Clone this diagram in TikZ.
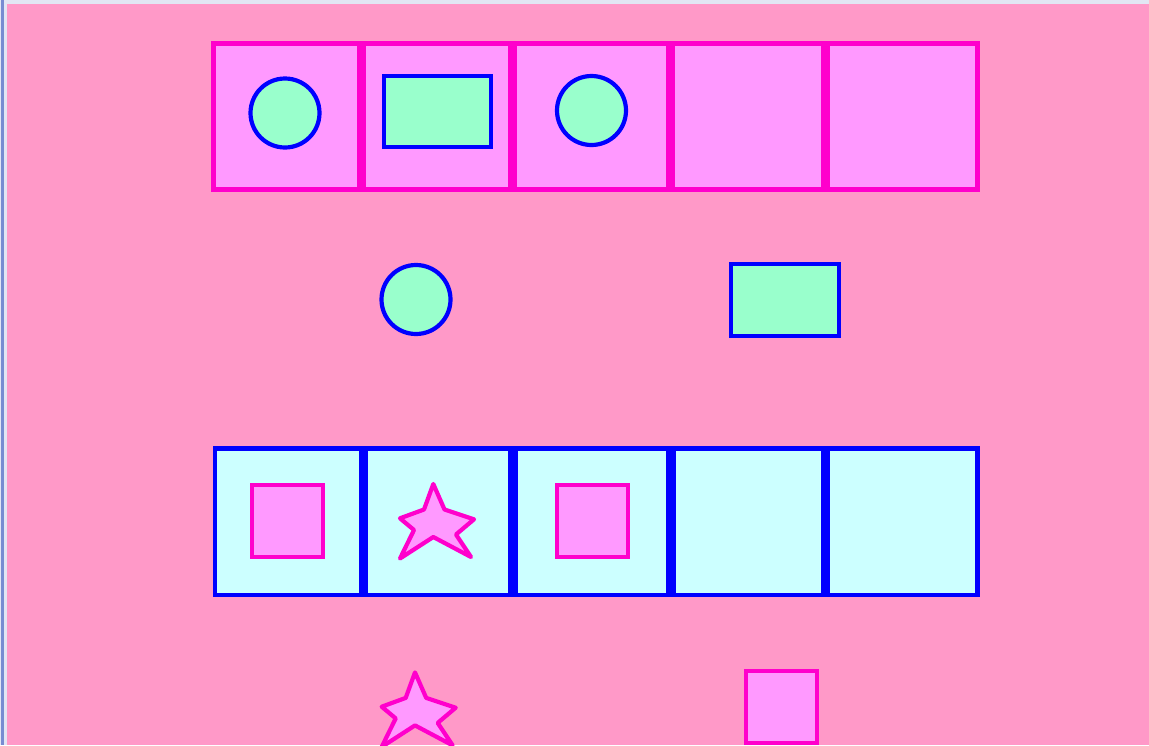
\documentclass[tikz,border=0pt]{standalone}
\usepackage{tikz}
\usetikzlibrary{positioning}
\definecolor{pinkbg}{RGB}{255,153,200}
\definecolor{cellpink}{RGB}{255,153,255}
\definecolor{pinkline}{RGB}{255,0,204}
\definecolor{blueline}{RGB}{0,0,255}
\definecolor{mint}{RGB}{153,255,204}
\definecolor{cellcyan}{RGB}{204,255,255}
\definecolor{framelight}{RGB}{226,230,244}
\definecolor{frameblue}{RGB}{120,140,210}

\tikzset{
  starmark/.pic={
    \draw[pinkline, fill=cellpink, line width=4.2pt, line join=round]
      (-1.7,-37) -- (9.5,-11.5) -- (39,-1.7) -- (21,13.5) -- (36,36)
      -- (-1.7,16) -- (-35,37.5) -- (-21,9) -- (-35,-2.7) -- (-11,-11.5)
      -- cycle;
  }
}

\begin{document}
\begin{tikzpicture}[
  x=1pt, y=-1pt,
  cellbox/.style={draw, line width=4.6pt, inner sep=0pt},
  topcell/.style={cellbox, draw=pinkline, fill=cellpink, minimum height=146pt},
  botcell/.style={cellbox, draw=blueline, fill=cellcyan, minimum height=146.5pt},
  roundmark/.style={circle, draw=blueline, fill=mint, line width=4.2pt,
                    minimum size=69pt, inner sep=0pt},
  rectmark/.style={draw=blueline, fill=mint, line width=4.2pt, inner sep=0pt,
                   minimum width=107pt, minimum height=71pt},
  squaremark/.style={draw=pinkline, fill=cellpink, line width=4.2pt, inner sep=0pt,
                     minimum width=71pt, minimum height=72pt}
]
\useasboundingbox (0,0) rectangle (1149,745);
% window frame and backdrop
\fill[framelight] (0,0) rectangle (1149,745);
\fill[frameblue] (1,0) rectangle (3.5,745);
\fill[pinkbg] (7.3,4.3) rectangle (1149,745);

% top row of cells
\node[topcell, minimum width=146pt] (t1) at (286.5,116.5) {};
\node[topcell, minimum width=146pt, right=0pt of t1] (t2) {};
\node[topcell, minimum width=153.5pt, right=0pt of t2] (t3) {};
\node[topcell, minimum width=150pt, right=0pt of t3] (t4) {};
\node[topcell, minimum width=150pt, right=0pt of t4] (t5) {};

\node[roundmark] (tc1) at (285,113) {};
\node[rectmark]  (tr2) at (437.5,111.5) {};
\node[roundmark] (tc3) at (591.5,110.5) {};

% loose shapes, middle
\node[roundmark] (mc) at (416,299.5) {};
\node[rectmark, minimum width=108pt, minimum height=72pt] (mr) at (785,300) {};

% bottom row of cells
\node[botcell, minimum width=146pt] (b1) at (288,521.75) {};
\node[botcell, minimum width=145pt, right=0pt of b1] (b2) {};
\node[botcell, minimum width=153.5pt, right=0pt of b2] (b3) {};
\node[botcell, minimum width=149.5pt, right=0pt of b3] (b4) {};
\node[botcell, minimum width=150pt, right=0pt of b4] (b5) {};

\node[squaremark] (bs1) at (287.5,521) {};
\pic (bs2) at (435,521) {starmark};
\node[squaremark] (bs3) at (592.5,521) {};

% loose shapes, bottom
\pic (ls) at (416.7,709.4) {starmark};
\node[squaremark] (lq) at (781.5,707) {};
\end{tikzpicture}
\end{document}
